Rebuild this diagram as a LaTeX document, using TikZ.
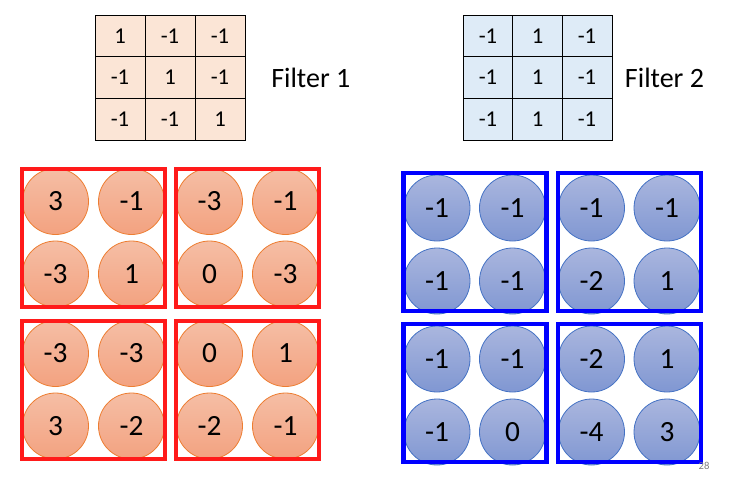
\documentclass[tikz,border=0pt]{standalone}
\usepackage{fontspec}
\setmainfont{Carlito}
\usetikzlibrary{positioning}
\definecolor{peach}{HTML}{FBE5D6}
\definecolor{paleblue}{HTML}{DEEBF7}
\definecolor{orangeline}{HTML}{ED7D31}
\definecolor{salmontop}{HTML}{F5BEA5}
\definecolor{salmonbot}{HTML}{F3A280}
\definecolor{blueline}{HTML}{4472C4}
\definecolor{bluetop}{HTML}{AAB6DE}
\definecolor{bluebot}{HTML}{8097D2}
\definecolor{framered}{HTML}{FF1A1A}
\tikzset{cell/.style={draw,thin,minimum width=37.5pt,minimum height=31.25pt,inner sep=0pt,
    font=\fontsize{17}{17}\selectfont},
  ball/.style={circle,minimum size=49.5pt,inner sep=0pt,line width=.6pt,
    font=\fontsize{22}{22}\selectfont},
  redball/.style={ball,draw=orangeline,top color=salmontop,bottom color=salmonbot},
  blueball/.style={ball,draw=blueline,top color=bluetop,bottom color=bluebot},
  frame/.style={minimum width=107.25pt,minimum height=103.5pt,inner sep=0pt},
  redframe/.style={frame,draw=framered,line width=3pt},
  blueframe/.style={frame,draw=blue,line width=3.4pt}}

\begin{document}
\begin{tikzpicture}[x=0.75pt,y=-0.75pt]
\useasboundingbox (0,0) rectangle (730,479);
% filters
\foreach \r/\a/\b/\c in {1/1/-1/-1,2/-1/1/-1,3/-1/-1/1} {
  \node[cell,fill=peach] (fa\r) at (120,-5.5+41.5*\r) {\a};
  \node[cell,fill=peach] (fb\r) at (170,-5.5+41.5*\r) {\b};
  \node[cell,fill=peach] (fc\r) at (220,-5.5+41.5*\r) {\c};}
\foreach \r in {1,2,3} {
  \node[cell,fill=paleblue] (ga\r) at (488,-5.5+41.5*\r) {-1};
  \node[cell,fill=paleblue] (gb\r) at (537.5,-5.5+41.5*\r) {1};
  \node[cell,fill=paleblue] (gc\r) at (587,-5.5+41.5*\r) {-1};}
\node[font=\fontsize{21}{21}\selectfont,right=16pt of fc2] (filterone) {Filter 1};
\node[font=\fontsize{21}{21}\selectfont,right=6pt of gc2] (filtertwo) {Filter 2};
% feature maps of filter 1
\foreach \n/\cx/\cy/\a/\b/\c/\d in {ra/93.5/238/3/-1/-3/1,rb/247.5/238/-3/-1/0/-3,
    rc/93.5/390/-3/-3/3/-2,rd/247.5/390/0/1/-2/-1} {
  \node[redball] (\n1) at (\cx-38,\cy-36.5) {\a};
  \node[redball] (\n2) at (\cx+38,\cy-36.5) {\b};
  \node[redball] (\n3) at (\cx-38,\cy+36) {\c};
  \node[redball] (\n4) at (\cx+38,\cy+36) {\d};
  \node[redframe] (\n) at (\cx,\cy) {};}
% feature maps of filter 2
\foreach \n/\cx/\cy/\a/\b/\c/\d in {ba/475/242/-1/-1/-1/-1,bb/629.5/242/-1/-1/-2/1,
    bc/475/393/-1/-1/-1/0,bd/629.5/393/-2/1/-4/3} {
  \node[blueball] (\n1) at (\cx-38,\cy-34) {\a};
  \node[blueball] (\n2) at (\cx+37.5,\cy-34) {\b};
  \node[blueball] (\n3) at (\cx-38,\cy+39) {\c};
  \node[blueball] (\n4) at (\cx+37.5,\cy+39) {\d};
  \node[blueframe] (\n) at (\cx,\cy) {};}
\node[font=\fontsize{8}{8}\selectfont,text=gray] (page) at (704,466) {28};
\end{tikzpicture}
\end{document}
